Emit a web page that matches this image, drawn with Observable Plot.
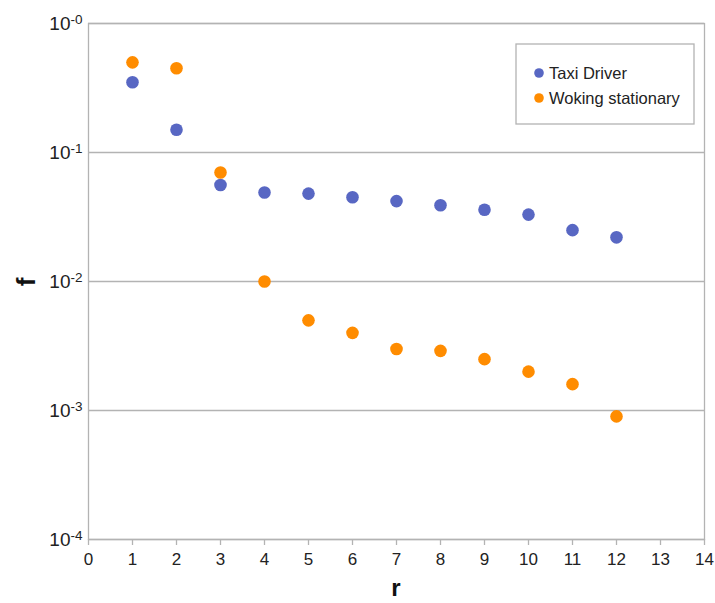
<!DOCTYPE html>
<html>
<head>
<meta charset="utf-8">
<script src="https://cdn.jsdelivr.net/npm/d3@7"></script>
<script src="https://cdn.jsdelivr.net/npm/@observablehq/plot@0.6"></script>
<style>
  html, body { margin: 0; padding: 0; background: #fff; }
  #chart { position: relative; width: 715px; height: 603px; }
</style>
</head>
<body>
<div id="chart"></div>
<script>
const ranks = [1, 2, 3, 4, 5, 6, 7, 8, 9, 10, 11, 12];
const taxiDriver = [0.35, 0.15, 0.056, 0.049, 0.048, 0.045, 0.042, 0.039, 0.036, 0.033, 0.025, 0.022];
const wokingStationary = [0.5, 0.45, 0.07, 0.01, 0.005, 0.004, 0.003, 0.0029, 0.0025, 0.002, 0.0016, 0.0009];
const seriesNames = ["Taxi Driver", "Woking stationary"];
const seriesColors = ["#5867c3", "#ff8c00"];
const xTicks = [0, 1, 2, 3, 4, 5, 6, 7, 8, 9, 10, 11, 12, 13, 14];
const yTicks = [1e-4, 1e-3, 1e-2, 1e-1, 1];
const yExponents = ["-4", "-3", "-2", "-1", "-0"];

const data = [];
ranks.forEach((r, i) => {
  data.push({r, f: taxiDriver[i], s: seriesNames[0]});
});
ranks.forEach((r, i) => {
  data.push({r, f: wokingStationary[i], s: seriesNames[1]});
});

const font = "'Liberation Sans', Arial, sans-serif";
const gray = "#b3b3b3";

const chart = Plot.plot({
  width: 715,
  height: 603,
  marginLeft: 88,
  marginRight: 11,
  marginTop: 23,
  marginBottom: 64,
  style: {fontFamily: font, fontSize: "17px", color: "#222", background: "#fff"},
  x: {domain: [0, 14]},
  y: {type: "log", domain: [1e-4, 1]},
  color: {domain: seriesNames, range: seriesColors},
  marks: [
    Plot.ruleY(yTicks, {stroke: gray, strokeWidth: 1.3}),
    Plot.frame({stroke: gray, strokeWidth: 1.3}),
    Plot.axisX({ticks: xTicks, tickSize: 6, tickPadding: 7, stroke: gray, strokeWidth: 1.3, label: null,
      tickFormat: d => String(d)}),
    Plot.axisY({ticks: yTicks, tickSize: 0, tickPadding: 6, label: null,
      tickFormat: d => "10^" + yExponents[yTicks.indexOf(d)]}),
    Plot.dot(data, {x: "r", y: "f", fill: "s", r: 6.3, stroke: "none"})
  ]
});

const svg = d3.select(chart);
// superscript exponents on y tick labels
svg.selectAll("text").each(function() {
  const t = d3.select(this);
  const txt = t.text();
  if (txt.includes("^")) {
    const [base, exp] = txt.split("^");
    t.text(null).attr("font-size", "19px").style("font-size", "19px").style("font-family", font);
    t.append("tspan").text(base);
    t.append("tspan").attr("dy", "-6").attr("font-size", "13.5px").style("font-size", "13.5px").text(exp);
  }
});

// axis titles
svg.append("text")
  .attr("x", 396).attr("y", 596)
  .attr("text-anchor", "middle")
  .attr("font-family", font).attr("font-size", "24px").attr("font-weight", "bold")
  .attr("fill", "#111")
  .text("r");
svg.append("text")
  .attr("transform", "translate(35,282) rotate(-90)")
  .attr("text-anchor", "middle")
  .attr("font-family", font).attr("font-size", "26px").attr("font-weight", "bold")
  .attr("fill", "#111")
  .text("f");

// legend
const lg = svg.append("g").attr("transform", "translate(516,44)");
lg.append("rect").attr("width", 178).attr("height", 80)
  .attr("fill", "#fff").attr("stroke", gray).attr("stroke-width", 1.3);
seriesNames.forEach((name, i) => {
  const row = lg.append("g").attr("transform", `translate(0,${29 + i * 25})`);
  row.append("circle").attr("cx", 23).attr("cy", 0).attr("r", 4.8).attr("fill", seriesColors[i]);
  row.append("text").attr("x", 33).attr("y", 0).attr("dy", "0.35em")
    .attr("text-anchor", "start")
    .attr("font-family", font).attr("font-size", "16.5px").attr("fill", "#222")
    .text(name);
});

document.getElementById("chart").appendChild(chart);
</script>
</body>
</html>
